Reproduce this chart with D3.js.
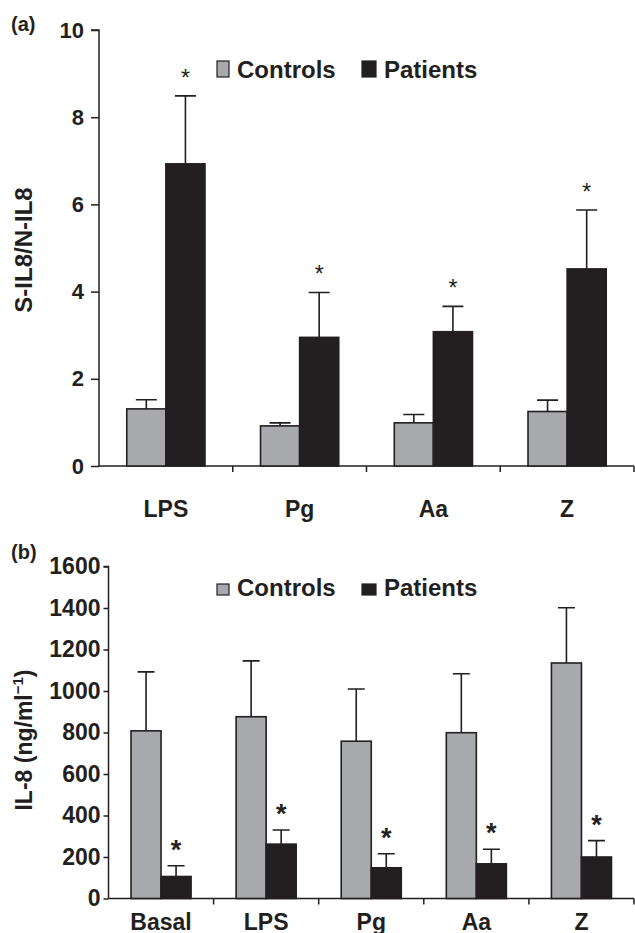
<!DOCTYPE html>
<html>
<head>
<meta charset="utf-8">
<script src="https://cdn.jsdelivr.net/npm/d3@7"></script>
<style>
  body { margin: 0; background: #fff; }
  text { font-family: "Liberation Sans", Arial, sans-serif; font-weight: bold; fill: #231f20; }
</style>
</head>
<body>
<div id="chart"></div>
<script>
// Data
var seriesNames = ["Controls", "Patients"];

// panel (a): ratio S-IL8 / N-IL8
var catsA = ["LPS", "Pg", "Aa", "Z"];
var controlsA = [1.31, 0.92, 0.99, 1.25];
var controlsErrA = [0.21, 0.07, 0.19, 0.26];
var patientsA = [6.93, 2.95, 3.08, 4.52];
var patientsErrA = [1.56, 1.03, 0.58, 1.35];
var ticksA = [0, 2, 4, 6, 8, 10];

// panel (b): IL-8 (ng/ml)
var catsB = ["Basal", "LPS", "Pg", "Aa", "Z"];
var controlsB = [808, 876, 758, 799, 1135];
var controlsErrB = [284, 269, 252, 284, 266];
var patientsB = [106, 262, 148, 167, 200];
var patientsErrB = [52, 68, 68, 70, 79];
var ticksB = [0, 200, 400, 600, 800, 1000, 1200, 1400, 1600];

var colors = ["#a7a9ac", "#231f20"];
var ink = "#231f20";

var svg = d3.select("#chart").append("svg")
  .attr("width", 635)
  .attr("height", 933);

function drawPanel(p) {
  var g = svg.append("g");

  var y = d3.scaleLinear().domain(p.domain).range([p.bottom, p.top]);
  var x0 = d3.scaleBand().domain(p.cats).range([p.left, p.right]).padding(0);
  var x1 = d3.scaleBand().domain(seriesNames).range([0, x0.bandwidth()])
    .paddingInner(0).paddingOuter(p.outer);

  // y axis
  var yAxis = d3.axisLeft(y).tickValues(p.ticks).tickSize(p.tickLen)
    .tickPadding(p.tickPad).tickFormat(d3.format("d"));
  var ya = g.append("g")
    .attr("transform", `translate(${p.left},0)`)
    .call(yAxis);
  ya.select(".domain").attr("stroke", ink).attr("stroke-width", 1.5)
    .attr("d", `M-${p.tickLen},${p.top}H0V${p.bottom}`);
  ya.selectAll(".tick line").attr("stroke", ink).attr("stroke-width", 1.5);
  ya.selectAll(".tick text")
    .style("font-size", p.tickFont + "px")
    .attr("fill", ink);

  // x axis: ticks at category boundaries, labels below
  var xa = g.append("g").attr("transform", `translate(0,${p.bottom})`);
  xa.append("line")
    .attr("x1", p.left).attr("x2", p.right)
    .attr("stroke", ink).attr("stroke-width", 1.5);
  xa.selectAll(".bound")
    .data(p.cats.slice(1).concat(["end"]))
    .enter().append("line")
    .attr("x1", (d, i) => p.left + x0.step() * (i + 1))
    .attr("x2", (d, i) => p.left + x0.step() * (i + 1))
    .attr("y1", 0).attr("y2", 6)
    .attr("stroke", ink).attr("stroke-width", 1.5);
  xa.selectAll(".catlabel")
    .data(p.cats)
    .enter().append("text")
    .attr("x", d => x0(d) + x0.bandwidth() / 2)
    .attr("y", p.labelDy)
    .attr("text-anchor", "middle")
    .style("font-size", p.labelFont + "px")
    .text(d => d);

  // bars
  var rows = p.cats.map((c, i) => ({
    cat: c,
    vals: [
      { s: "Controls", v: p.controls[i], e: p.controlsErr[i] },
      { s: "Patients", v: p.patients[i], e: p.patientsErr[i] }
    ]
  }));

  var grp = g.selectAll(".grp")
    .data(rows)
    .enter().append("g")
    .attr("transform", d => `translate(${x0(d.cat)},0)`);

  // error bars first, drawn from the bar top upward
  grp.selectAll(".err")
    .data(d => d.vals)
    .enter().append("path")
    .attr("d", d => {
      var cx = x1(d.s) + x1.bandwidth() / 2;
      return `M${cx},${y(d.v)}V${y(d.v + d.e)}M${cx - p.cap / 2},${y(d.v + d.e)}H${cx + p.cap / 2}`;
    })
    .attr("fill", "none")
    .attr("stroke", ink)
    .attr("stroke-width", 1.6);

  grp.selectAll("rect")
    .data(d => d.vals)
    .enter().append("rect")
    .attr("x", d => x1(d.s))
    .attr("y", d => y(d.v))
    .attr("width", x1.bandwidth())
    .attr("height", d => y(0) - y(d.v))
    .attr("fill", (d, i) => colors[i])
    .attr("stroke", ink)
    .attr("stroke-width", 1.6);

  // significance stars over patient bars
  grp.append("text")
    .attr("x", d => x1("Patients") + x1.bandwidth() / 2)
    .attr("y", d => y(d.vals[1].v + d.vals[1].e) - p.starGap)
    .attr("text-anchor", "middle")
    .style("font-size", p.starFont + "px")
    .style("font-weight", p.starWeight)
    .text("*");

  // legend
  var leg = g.append("g");
  var lx = [217, 362];
  var lw = [12, 14];
  var tx = [237, 384];
  seriesNames.forEach((s, i) => {
    leg.append("rect")
      .attr("x", lx[i]).attr("y", p.legY - p.legH - 1)
      .attr("width", lw[i]).attr("height", p.legH)
      .attr("fill", colors[i]).attr("stroke", ink).attr("stroke-width", 1.2);
    leg.append("text")
      .attr("x", tx[i]).attr("y", p.legY)
      .style("font-size", "24px")
      .text(s);
  });

  // panel letter
  g.append("text")
    .attr("x", 11).attr("y", p.letterY)
    .style("font-size", "20px")
    .text(p.letter);

  // y title
  var yt = g.append("text")
    .attr("transform", `translate(${p.titleX},${p.titleY}) rotate(-90)`)
    .attr("text-anchor", "middle")
    .style("font-size", p.titleFont + "px");
  yt.append("tspan").text(p.title);
  if (p.titleSup) {
    yt.append("tspan").attr("dy", -9).style("font-size", "15px").text(p.titleSup);
    yt.append("tspan").attr("dy", 9).text(p.titleEnd);
  }
}

drawPanel({
  cats: catsA, controls: controlsA, controlsErr: controlsErrA,
  patients: patientsA, patientsErr: patientsErrA,
  domain: [0, 10], ticks: ticksA,
  top: 30, bottom: 466, left: 99, right: 634, outer: 0.71,
  tickLen: 8, tickPad: 7, tickFont: 22, labelFont: 23, labelDy: 51,
  cap: 21, starGap: 10, starFont: 23, starWeight: "normal",
  legY: 78, legH: 16,
  letter: "(a)", letterY: 31,
  title: "S-IL8/N-IL8", titleFont: 24, titleX: 32, titleY: 250
});

drawPanel({
  cats: catsB, controls: controlsB, controlsErr: controlsErrB,
  patients: patientsB, patientsErr: patientsErrB,
  domain: [0, 1600], ticks: ticksB,
  top: 566.5, bottom: 898.5, left: 108.5, right: 634, outer: 0.75,
  tickLen: 5, tickPad: 3, tickFont: 23, labelFont: 23, labelDy: 31,
  cap: 17, starGap: 7, starFont: 27, starWeight: "bold",
  legY: 596, legH: 11,
  letter: "(b)", letterY: 559,
  title: "IL-8 (ng/ml", titleSup: "−1", titleEnd: ")", titleFont: 23, titleX: 32, titleY: 740
});
</script>
</body>
</html>
